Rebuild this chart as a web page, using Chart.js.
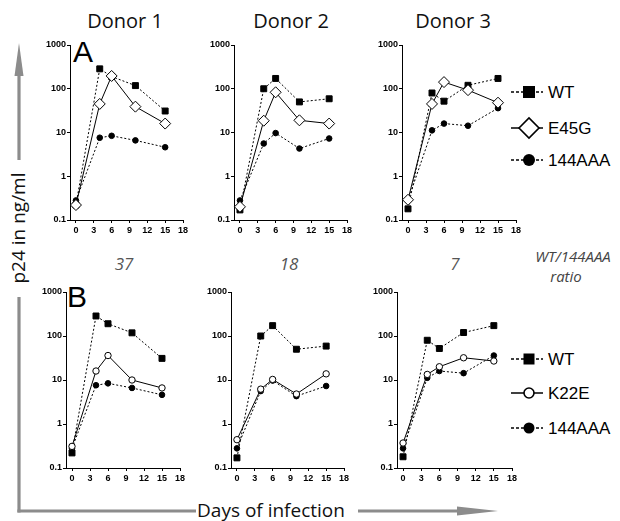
<!DOCTYPE html>
<html>
<head>
<meta charset="utf-8">
<script src="https://cdn.jsdelivr.net/npm/chart.js@4.4.1/dist/chart.umd.min.js"></script>
<style>
  body { margin: 0; width: 620px; height: 521px; background: #fff; position: relative; overflow: hidden; }
  canvas { position: absolute; }
  #overlay { position: absolute; left: 0; top: 0; pointer-events: none; }
</style>
</head>
<body>
<svg id="overlay" width="620" height="521"></svg>
<script>
// days of infection sampled
const days = [0, 4, 6, 10, 15];
const xTicks = [0, 3, 6, 9, 12, 15, 18];
const yTicks = [0.1, 1, 10, 100, 1000];

// p24 (ng/ml)
const wt1 = [0.22, 285, 190, 118, 31];
const wt2 = [0.17, 100, 172, 50, 59];
const wt3 = [0.18, 80, 52, 120, 172];

const e45g1 = [0.22, 45, 196, 39, 16];
const e45g2 = [0.2, 18.6, 83, 19, 16];
const e45g3 = [0.29, 45, 142, 93, 48];

const k22e1 = [0.31, 16, 36, 10, 6.6];
const k22e2 = [0.44, 6.2, 10.3, 4.8, 13.8];
const k22e3 = [0.37, 13.4, 20, 32, 27];

const aaa1 = [0.28, 7.6, 8.4, 6.6, 4.6];
const aaa2 = [0.28, 5.6, 9.7, 4.3, 7.3];
const aaa3 = [0.28, 11.2, 16, 14.3, 36];

const donors = ['Donor 1', 'Donor 2', 'Donor 3'];
const ratios = ['37', '18', '7'];

const tickFont = { family: '"Liberation Sans", Arial, sans-serif', size: 9, weight: 'bold' };

function pts(vals) {
  return days.map((d, i) => ({ x: d, y: vals[i] }));
}

function wtSet(vals) {
  return { data: pts(vals), borderColor: '#000', borderWidth: 1, borderDash: [2, 2],
    pointStyle: 'rect', pointRadius: 4.2, pointBackgroundColor: '#000', pointBorderColor: '#000', pointBorderWidth: 1 };
}
function aaaSet(vals) {
  return { data: pts(vals), borderColor: '#000', borderWidth: 1, borderDash: [2, 2],
    pointStyle: 'circle', pointRadius: 2.8, pointBackgroundColor: '#000', pointBorderColor: '#000', pointBorderWidth: 1 };
}
function diamondSet(vals) {
  return { data: pts(vals), borderColor: '#000', borderWidth: 1,
    pointStyle: 'rectRot', pointRadius: 5.5, pointBackgroundColor: '#fff', pointBorderColor: '#000', pointBorderWidth: 1 };
}
function openCircleSet(vals) {
  return { data: pts(vals), borderColor: '#000', borderWidth: 1,
    pointStyle: 'circle', pointRadius: 3.2, pointBackgroundColor: '#fff', pointBorderColor: '#000', pointBorderWidth: 1 };
}

function panel(left, top, w, h, sets) {
  const padL = 40, padT = 8, padR = 12, axH = 24;
  const cv = document.createElement('canvas');
  cv.width = padL + w + padR;
  cv.height = padT + h + axH;
  cv.style.left = (left - padL) + 'px';
  cv.style.top = (top - padT) + 'px';
  document.body.appendChild(cv);

  new Chart(cv, {
    type: 'line',
    data: { datasets: sets.map(s => Object.assign({ clip: false, tension: 0 }, s)) },
    options: {
      responsive: false,
      animation: false,
      layout: { padding: { top: padT, right: padR, left: 0, bottom: 0 } },
      plugins: { legend: { display: false }, tooltip: { enabled: false } },
      scales: {
        x: {
          type: 'linear', position: 'bottom', min: -1, max: 18,
          afterBuildTicks: s => { s.ticks = xTicks.map(v => ({ value: v })); },
          afterFit: s => { s.height = axH; },
          grid: { drawOnChartArea: false, drawTicks: true, tickLength: 3, color: '#000' },
          border: { color: '#000', width: 1 },
          ticks: { color: '#000', font: tickFont, padding: 2, maxRotation: 0 }
        },
        y: {
          type: 'logarithmic', min: 0.1, max: 1000,
          afterBuildTicks: s => { s.ticks = yTicks.map(v => ({ value: v })); },
          afterFit: s => { s.width = padL; },
          grid: { drawOnChartArea: false, drawTicks: true, tickLength: 3, color: '#000' },
          border: { color: '#000', width: 1 },
          ticks: { color: '#000', font: tickFont, padding: 1, callback: v => String(v) }
        }
      }
    }
  });
}

// panel A: E45G drawn on top, then WT, then 144AAA
panel(70, 45, 113, 175, [diamondSet(e45g1), wtSet(wt1), aaaSet(aaa1)]);
panel(234, 45, 113, 175, [diamondSet(e45g2), wtSet(wt2), aaaSet(aaa2)]);
panel(402, 45, 114, 175, [diamondSet(e45g3), wtSet(wt3), aaaSet(aaa3)]);
// panel B: K22E, WT, 144AAA
panel(66, 292, 114, 176, [openCircleSet(k22e1), wtSet(wt1), aaaSet(aaa1)]);
panel(231, 292, 113, 176, [openCircleSet(k22e2), wtSet(wt2), aaaSet(aaa2)]);
panel(397, 292, 115, 176, [openCircleSet(k22e3), wtSet(wt3), aaaSet(aaa3)]);

// overlay: titles, letters, legends, arrows
const svg = document.getElementById('overlay');
const NS = 'http://www.w3.org/2000/svg';
function el(tag, attrs, text) {
  const e = document.createElementNS(NS, tag);
  for (const k in attrs) e.setAttribute(k, attrs[k]);
  if (text !== undefined) e.textContent = text;
  svg.appendChild(e);
  return e;
}
const humanist = '"Open Sans", sans-serif';
const arial = '"Liberation Sans", Arial, sans-serif';
const grey = '#8c8c8c';

[125, 291, 453].forEach((x, i) => {
  el('text', { x, y: 28, 'text-anchor': 'middle', 'font-family': humanist, 'font-size': 20, fill: '#111' }, donors[i]);
});
[124, 289, 455].forEach((x, i) => {
  el('text', { x, y: 270, 'text-anchor': 'middle', 'font-family': humanist, 'font-size': 17, 'font-style': 'italic', fill: '#555' }, ratios[i]);
});
el('text', { x: 573, y: 262, 'text-anchor': 'middle', 'font-family': humanist, 'font-size': 15, 'font-style': 'italic', fill: '#444' }, 'WT/144AAA');
el('text', { x: 566, y: 282, 'text-anchor': 'middle', 'font-family': humanist, 'font-size': 15, 'font-style': 'italic', fill: '#444' }, 'ratio');

el('text', { x: 73, y: 62, 'font-family': arial, 'font-size': 30, fill: '#000' }, 'A');
el('text', { x: 67, y: 307, 'font-family': arial, 'font-size': 30, fill: '#000' }, 'B');

// legends
function legendRow(y, kind, label, size) {
  const dashed = kind === 'rect' || kind === 'dot';
  el('line', { x1: 511, y1: y, x2: 543, y2: y, stroke: '#000', 'stroke-width': 1.5, 'stroke-dasharray': dashed ? '3,2' : 'none' });
  const cx = 529;
  if (kind === 'rect') el('rect', { x: cx - size / 2, y: y - size / 2, width: size, height: size, fill: '#000' });
  if (kind === 'dot') el('circle', { cx, cy: y, r: size / 2, fill: '#000' });
  if (kind === 'ring') el('circle', { cx, cy: y, r: size / 2, fill: '#fff', stroke: '#000', 'stroke-width': 1.6 });
  if (kind === 'diamond') el('polygon', { points: `${cx - size / 2},${y} ${cx},${y - size / 2} ${cx + size / 2},${y} ${cx},${y + size / 2}`, fill: '#fff', stroke: '#000', 'stroke-width': 1.6 });
  el('text', { x: 548, y: y + 6, 'font-family': arial, 'font-size': 17, fill: '#000' }, label);
}
legendRow(92, 'rect', 'WT', 12);
legendRow(128, 'diamond', 'E45G', 20);
legendRow(160, 'dot', '144AAA', 12);
legendRow(359, 'rect', 'WT', 11);
legendRow(393, 'ring', 'K22E', 10);
legendRow(428, 'dot', '144AAA', 11);

// grey axis arrows
el('line', { x1: 19, y1: 512.5, x2: 19, y2: 297, stroke: grey, 'stroke-width': 3.2 });
el('line', { x1: 19, y1: 160, x2: 19, y2: 72, stroke: grey, 'stroke-width': 3.2 });
el('polygon', { points: '14.5,76 19,43 23.5,76', fill: grey });
el('line', { x1: 17.4, y1: 511, x2: 196, y2: 511, stroke: grey, 'stroke-width': 3.2 });
el('line', { x1: 358, y1: 511, x2: 460, y2: 511, stroke: grey, 'stroke-width': 3.2 });
el('polygon', { points: '457,506.5 498,511 457,515.5', fill: grey });

el('text', { x: 271, y: 517, 'text-anchor': 'middle', 'font-family': humanist, 'font-size': 19, fill: '#111' }, 'Days of infection');
el('text', { x: 0, y: 0, 'text-anchor': 'middle', 'font-family': humanist, 'font-size': 19, fill: '#111',
  transform: 'translate(25,228) rotate(-90)' }, 'p24 in ng/ml');
</script>
</body>
</html>
